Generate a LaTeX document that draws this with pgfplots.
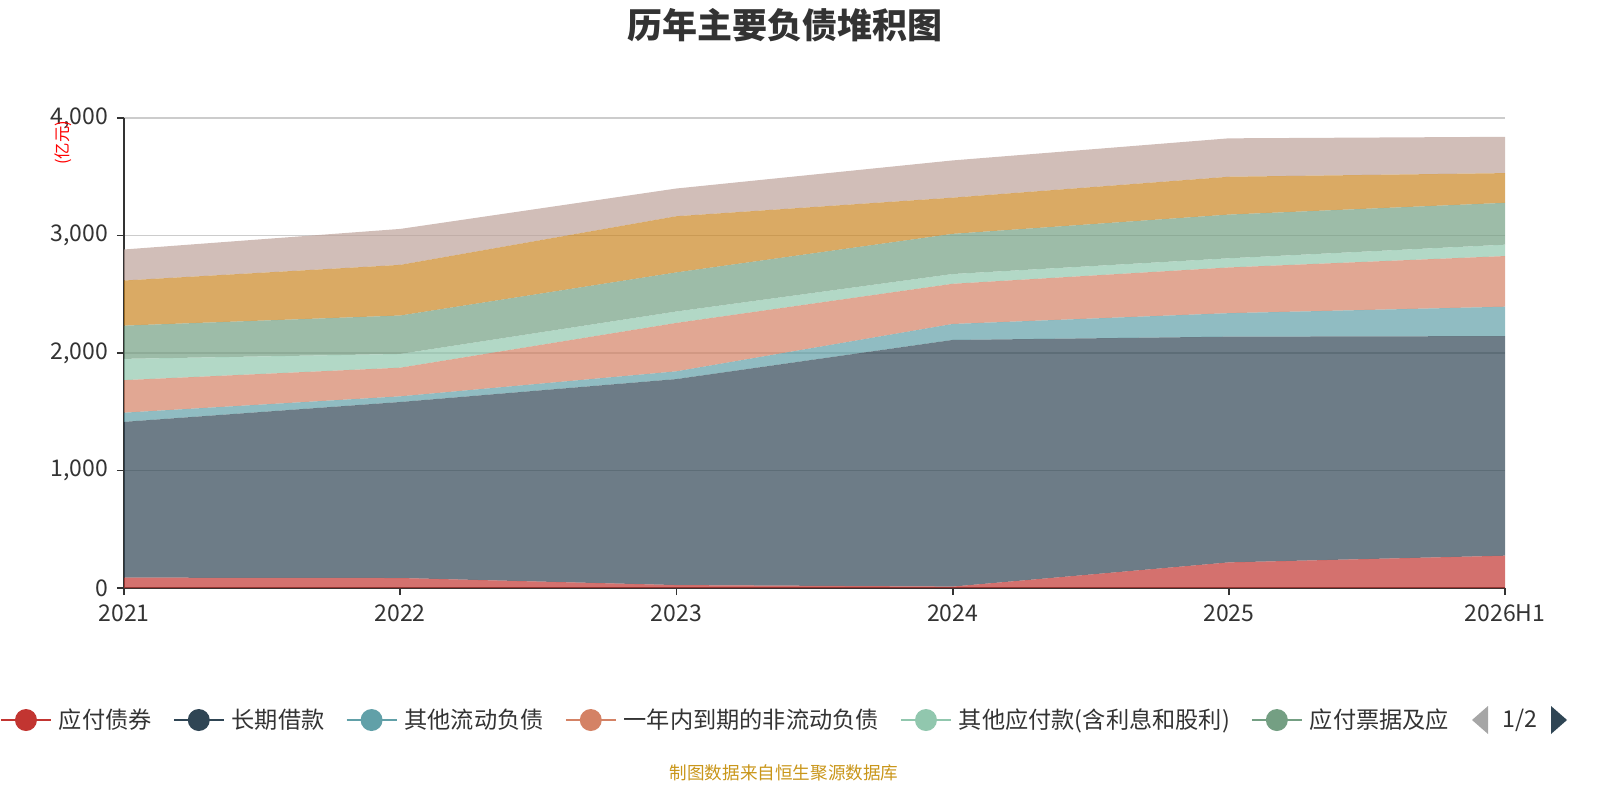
\documentclass[border=0pt]{standalone}
\usepackage{pgfplots}
\pgfplotsset{compat=1.18}
\usepackage{fontspec}
\setmainfont{Noto Sans CJK SC}
\definecolor{c1}{HTML}{C23531}
\definecolor{c2}{HTML}{2F4554}
\definecolor{c3}{HTML}{61A0A8}
\definecolor{c4}{HTML}{D48265}
\definecolor{c5}{HTML}{91C7AE}
\definecolor{c6}{HTML}{749F83}
\definecolor{c7}{HTML}{CA8622}
\definecolor{c8}{HTML}{BDA29A}
\definecolor{txt}{HTML}{333333}
\definecolor{axisc}{HTML}{333333}
\definecolor{gridc}{HTML}{CCCCCC}
\definecolor{src}{HTML}{C9961A}
\pgfplotsset{
  myleg/.style={legend image code/.code={%
    \draw[line width=1pt,#1,draw opacity=1] (0pt,0pt) -- (25pt,0pt);%
    \fill[#1,fill opacity=1] (12.5pt,0pt) circle (5.5pt);}},
  myarea/.style={fill=#1, fill opacity=0.7, draw=none, myleg=#1}
}
\begin{document}%
\begin{tikzpicture}[x=1pt,y=1pt]%
\useasboundingbox (0,0) rectangle (800,400);
\begin{axis}[
  at={(62pt,106pt)}, anchor=south west,
  scale only axis, width=690.5pt, height=235pt,
  xmin=0, xmax=5, ymin=0, ymax=4000,
  axis x line*=bottom, axis y line*=left,
  axis line style={draw=axisc, line width=0.9pt, -},
  xtick={0,...,5}, xticklabels={2021,2022,2023,2024,2025,2026H1},
  ytick={0,1000,2000,3000,4000},
  tick align=outside, major tick length=3.5pt,
  tick style={draw=axisc, line width=0.9pt},
  ymajorgrids, grid style={draw=gridc, line width=0.6pt},
  ticklabel style={font=\fontsize{11.5}{12}\selectfont, text=txt},
  /pgf/number format/assume math mode=true,
  /pgf/number format/1000 sep={,},
  scaled y ticks=false,
  yticklabel style={xshift=-1pt},
  xticklabel style={yshift=-1.3pt},
  stack plots=y,
  legend columns=-1,
  legend style={at={(axis description cs:-0.0898,-0.2809)}, anchor=west,
    draw=none, fill=none, inner sep=0pt, outer sep=0pt,
    font=\fontsize{11.6}{12}\selectfont, text=txt,
    nodes={inner sep=0pt},
    /tikz/every odd column/.append style={column sep=3.5pt},
    /tikz/every even column/.append style={column sep=10.5pt}},
]
\addplot[myarea=c1] coordinates {(0,88) (1,85) (2,25) (3,12) (4,218) (5,275)} \closedcycle;
\addlegendentry{应付债券}
\addplot[myarea=c2] coordinates {(0,1326) (1,1498) (2,1753) (3,2099) (4,1921) (5,1869)} \closedcycle;
\addlegendentry{长期借款}
\addplot[myarea=c3] coordinates {(0,78) (1,48) (2,66) (3,136) (4,200) (5,250)} \closedcycle;
\addlegendentry{其他流动负债}
\addplot[myarea=c4] coordinates {(0,277) (1,244) (2,412) (3,342) (4,389) (5,431)} \closedcycle;
\addlegendentry{一年内到期的非流动负债}
\addplot[myarea=c5] coordinates {(0,181) (1,117) (2,97) (3,83) (4,78) (5,97)} \closedcycle;
\addlegendentry{其他应付款(含利息和股利)}
\addplot[myarea=c6] coordinates {(0,283) (1,327) (2,333) (3,342) (4,372) (5,356)} \closedcycle;
\addlegendentry{应付票据及应}
\addplot[myarea=c7] coordinates {(0,384) (1,431) (2,478) (3,308) (4,322) (5,253)} \closedcycle;
\addplot[myarea=c8] coordinates {(0,264) (1,306) (2,236) (3,317) (4,327) (5,309)} \closedcycle;
\end{axis}
\node[font=\fontsize{17.5}{18}\selectfont\bfseries, text=txt] at (392.5,387.5) {历年主要负债堆积图};
\node[rotate=90, text=red, font=\fontsize{8.2}{9}\selectfont] at (31.5,328.5) {(亿元)};
\fill[gray!70] (744,47) -- (736,40) -- (744,33) -- cycle;
\node[font=\fontsize{11.6}{12}\selectfont, text=txt] at (760,40) {1/2};
\fill[c2] (775.5,47) -- (783.5,40) -- (775.5,33) -- cycle;
\node[font=\fontsize{8.8}{9}\selectfont, text=src] at (392,13.5) {制图数据来自恒生聚源数据库};
\end{tikzpicture}%
\end{document}
